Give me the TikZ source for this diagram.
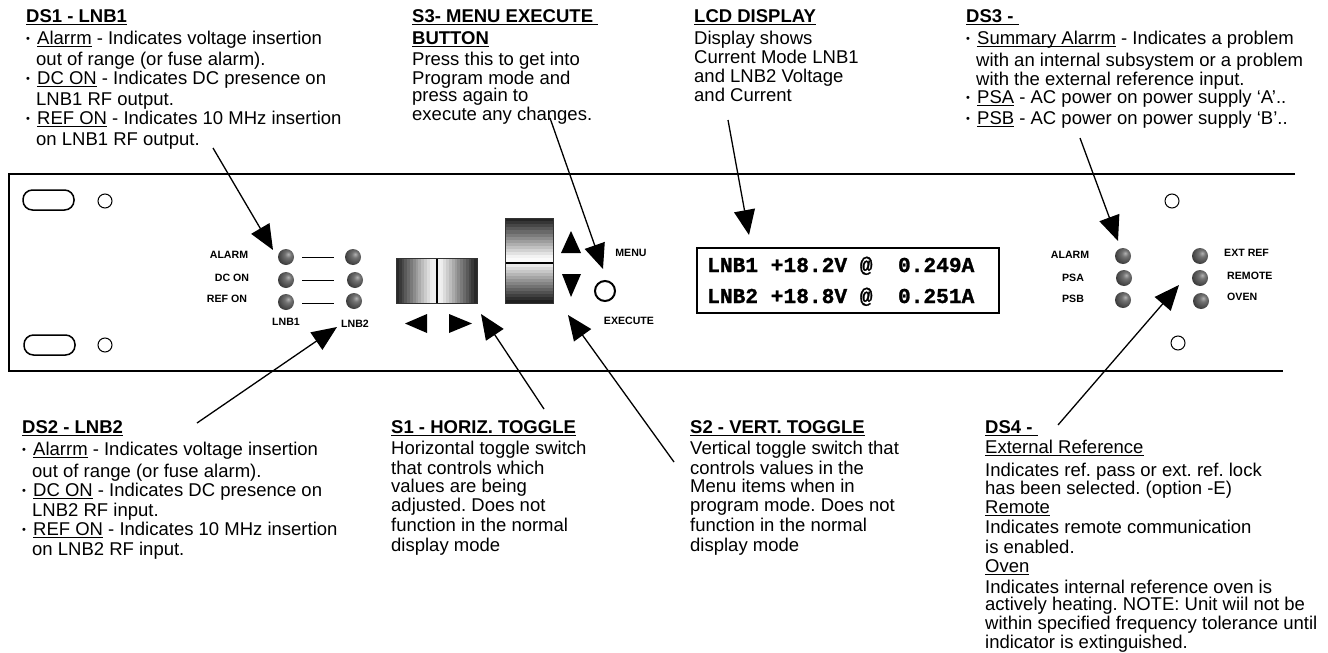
\documentclass[tikz,border=0pt]{standalone}
\usepackage{fontspec}
\setmainfont{Liberation Sans}
\newfontfamily\lcdfont[BoldFeatures={FakeBold=1.2}]{Liberation Mono}
\usetikzlibrary{arrows.meta}
\normallineskiplimit=-20pt
\lineskiplimit=-20pt
\AtBeginDocument{\frenchspacing}
\newcommand\ulin[1]{\setbox0=\hbox{#1}\rlap{\rule[-2.2pt]{\wd0}{0.9pt}}\box0\relax}
\newcommand\bul{\makebox[11pt][l]{\fontsize{11}{11}\selectfont\raisebox{1.5pt}{•}}}
\newcommand\ind{\makebox[10pt]{}}
\newcommand\st{\rule{0pt}{14pt}}
\pgfdeclareradialshading{ledshade}{\pgfpoint{7bp}{9bp}}{
  color(0bp)=(black!30);color(10bp)=(black!55);color(26bp)=(black!72);color(42bp)=(black!90);color(60bp)=(black);color(80bp)=(black)}
\tikzset{
  txt/.style={anchor=north west,inner sep=0pt,align=left,font=\fontsize{18.5}{17}\selectfont},
  panelline/.style={line width=2pt,black},
  hole/.style={draw,line width=1pt,circle,minimum size=14pt,inner sep=0pt},
  slot/.style={draw,line width=1.5pt,rounded corners=9.5pt,minimum width=51pt,minimum height=20pt,inner sep=0pt},
  led/.style={circle,minimum size=16pt,inner sep=0pt,shading=ledshade},
  tiny/.style={inner sep=0pt,font=\fontsize{10.6}{12}\selectfont\bfseries},
  tinyw/.style={tiny,anchor=west},
  rungline/.style={line width=0.8pt},
  pointer/.style={line width=1.3pt,-{Triangle[length=25pt,width=21pt]},shorten >=0pt},
  tri/.style={fill=black,draw=none},
}
\begin{document}
\begin{tikzpicture}[x=1pt,y=-1pt]
\useasboundingbox (0,0) rectangle (1328,653);
% panel
\coordinate (pTR) at (1295,174);
\coordinate (pTL) at (8.5,174);
\coordinate (pBL) at (8.5,371);
\coordinate (pBR) at (1283,371);
\draw[panelline,line join=miter] (pTR) -- (pTL) -- (pBL) -- (pBR);
\node[slot] (slotA) at (48.5,200) {};
\node[slot] (slotB) at (49.5,345) {};
\node[hole] (holeA) at (105,201) {};
\node[hole] (holeB) at (105,345) {};
\node[hole] (holeC) at (1172,201) {};
\node[hole] (holeD) at (1178,343) {};
% LEDs
\foreach \n/\x/\y in {la/286/257,lb/286/280,lc/286/302,ma/353/257,mb/355/280,mc/354/301,
  ra/1123/256,rb/1124/278,rc/1123/300,sa/1200/256,sb/1200/278,sc/1201/301}{
  \node[led] (\n) at (\x,\y) {};
}
\coordinate (r1a) at (302,257); \coordinate (r1b) at (334,257);
\coordinate (r2a) at (302,280); \coordinate (r2b) at (334,280);
\coordinate (r3a) at (302,303); \coordinate (r3b) at (334,303);
\draw[rungline] (r1a) -- (r1b);
\draw[rungline] (r2a) -- (r2b);
\draw[rungline] (r3a) -- (r3b);
\node[tiny] (t1) at (229,255) {ALARM};
\node[tiny] (t2) at (232,278) {DC ON};
\node[tiny] (t3) at (227,299) {REF ON};
\node[tiny] (t4) at (286,322) {LNB1};
\node[tiny] (t5) at (355,324) {LNB2};
\node[tiny] (t6) at (1070,255) {ALARM};
\node[tiny] (t7) at (1073,278) {PSA};
\node[tiny] (t8) at (1073,299) {PSB};
\node[tinyw] (t9) at (1224,253) {EXT REF};
\node[tinyw] (t10) at (1227,276) {REMOTE};
\node[tinyw] (t11) at (1227,297) {OVEN};
\node[tiny] (t12) at (631,253) {MENU};
\node[tiny] (t13) at (629,321) {EXECUTE};
% horizontal toggle
\foreach \i in {0,...,13}{
  \pgfmathsetmacro\g{min(94,16+\i*6.4)}
  \fill[black!\fpeval{100-\g}] ({396+\i*2.8},258) rectangle ({396+(\i+1)*2.8+.3},303);
  \fill[black!\fpeval{100-\g}] ({477-\i*2.8},258) rectangle ({477-(\i+1)*2.8-.3},303);
}
\fill[black] (435.7,258) rectangle (438.3,303);
\draw[line width=.6pt,black!80] (396,258) rectangle (477,303);
% vertical toggle
\foreach \i in {0,...,12}{
  \pgfmathsetmacro\g{min(95,14+\i*6.8)}
  \fill[black!\fpeval{100-\g}] (505,{218+\i*3.1}) rectangle (553,{218+(\i+1)*3.1+.3});
}
\fill[black!2] (505,258) rectangle (553,263);
\foreach \i in {0,...,12}{
  \pgfmathsetmacro\g{min(92,12+\i*6.6)}
  \fill[black!\fpeval{100-\g}] (505,{303-\i*3}) rectangle (553,{303-(\i+1)*3-.3});
}
\fill[black] (505,262) rectangle (553,263.6);
\draw[line width=.6pt,black!80] (505,218) rectangle (553,303);
% triangles
\fill[tri] (405,323.5) -- (427,314) -- (427,333) -- cycle;
\fill[tri] (472,323.5) -- (449,314) -- (449,333) -- cycle;
\fill[tri] (571,231) -- (561,253) -- (581,253) -- cycle;
\fill[tri] (571,297) -- (562,274) -- (581,274) -- cycle;
\node[circle,draw,line width=2pt,minimum size=20pt,inner sep=0pt] (btn) at (605,291) {};
% LCD
\node[draw,line width=1.3pt,minimum width=302pt,minimum height=65pt,inner sep=0pt] (lcd) at (848,280.5) {};
\node[anchor=base west,inner sep=0pt,font=\lcdfont\bfseries\fontsize{21.2}{24}\selectfont] (lcdA) at (707,272) {LNB1 +18.2V @\ \ 0.249A};
\node[anchor=base west,inner sep=0pt,font=\lcdfont\bfseries\fontsize{21.2}{24}\selectfont] (lcdB) at (707,303) {LNB2 +18.8V @\ \ 0.251A};
% texts
\node[txt] (ds1) at (26,8) {\st\textbf{\ulin{DS1 - LNB1}}\\[5pt]
\bul\ulin{Alarrm} - Indicates voltage insertion\\[4pt]
\ind out of range (or fuse alarm).\\[2pt]
\bul\ulin{DC ON} - Indicates DC presence on\\[4pt]
\ind LNB1 RF output.\\[2pt]
\bul\ulin{REF ON} - Indicates 10 MHz insertion\\[4pt]
\ind on LNB1 RF output.};
\node[txt] (s3) at (412,8) {\st\textbf{\ulin{S3- MENU EXECUTE\ }}\\[5pt]
\textbf{\ulin{BUTTON}}\\[4pt]
Press this to get into\\[2pt]
Program mode and\\[0pt]
press again to\\[2pt]
execute any changes.};
\node[txt] (lcdt) at (694,8) {\st\textbf{\ulin{LCD DISPLAY}}\\[5pt]
Display shows\\[2pt]
Current Mode LNB1\\[2pt]
and LNB2 Voltage\\[2pt]
and Current};
\node[txt] (ds3) at (966,8) {\st\textbf{\ulin{DS3 -\ }}\\[5pt]
\bul\ulin{Summary Alarrm} - Indicates a problem\\[5pt]
\ind with an internal subsystem or a problem\\[2pt]
\ind with the external reference input.\\[1pt]
\bul\ulin{PSA} - AC power on power supply ‘A’..\\[4pt]
\bul\ulin{PSB} - AC power on power supply ‘B’..};
\node[txt] (ds2) at (22,419) {\st\textbf{\ulin{DS2 - LNB2}}\\[5pt]
\bul\ulin{Alarrm} - Indicates voltage insertion\\[5pt]
\ind out of range (or fuse alarm).\\[2pt]
\bul\ulin{DC ON} - Indicates DC presence on\\[3pt]
\ind LNB2 RF input.\\[2pt]
\bul\ulin{REF ON} - Indicates 10 MHz insertion\\[3pt]
\ind on LNB2 RF input.};
\node[txt] (s1) at (391,419) {\st\textbf{\ulin{S1 - HORIZ. TOGGLE}}\\[4pt]
Horizontal toggle switch\\[3pt]
that controls which\\[1pt]
values are being\\[2pt]
adjusted. Does not\\[3pt]
function in the normal\\[3pt]
display mode};
\node[txt] (s2) at (690,419) {\st\textbf{\ulin{S2 - VERT. TOGGLE}}\\[4pt]
Vertical toggle switch that\\[3pt]
controls values in the\\[1pt]
Menu items when in\\[2pt]
program mode. Does not\\[3pt]
function in the normal\\[3pt]
display mode};
\node[txt] (ds4) at (985,419) {\st\textbf{\ulin{DS4 -\ }}\\[3pt]
\ulin{External Reference}\\[6pt]
Indicates ref. pass or ext. ref. lock\\[1pt]
has been selected. (option -E)\\[2pt]
\ulin{Remote}\\[3pt]
Indicates remote communication\\[3pt]
is enabled.\\[2pt]
\ulin{Oven}\\[4pt]
Indicates internal reference oven is\\[0pt]
actively heating. NOTE: Unit wiil not be\\[2pt]
within specified frequency tolerance until\\[2pt]
indicator is extinguished.};
% pointers
\coordinate (a1s) at (213,148); \coordinate (a1t) at (273,250);
\coordinate (a2s) at (197,423); \coordinate (a2t) at (337,327);
\coordinate (a3s) at (550,118); \coordinate (a3t) at (603,269);
\coordinate (a4s) at (728,120); \coordinate (a4t) at (749,235);
\coordinate (a5s) at (1080,138); \coordinate (a5t) at (1118,241);
\coordinate (a6s) at (1058,425); \coordinate (a6t) at (1179,285);
\coordinate (a7s) at (544,409); \coordinate (a7t) at (481,314);
\coordinate (a8s) at (674,462); \coordinate (a8t) at (568,315);
\foreach \k in {1,...,8}{ \draw[pointer] (a\k s) -- (a\k t); }
\end{tikzpicture}
\end{document}
